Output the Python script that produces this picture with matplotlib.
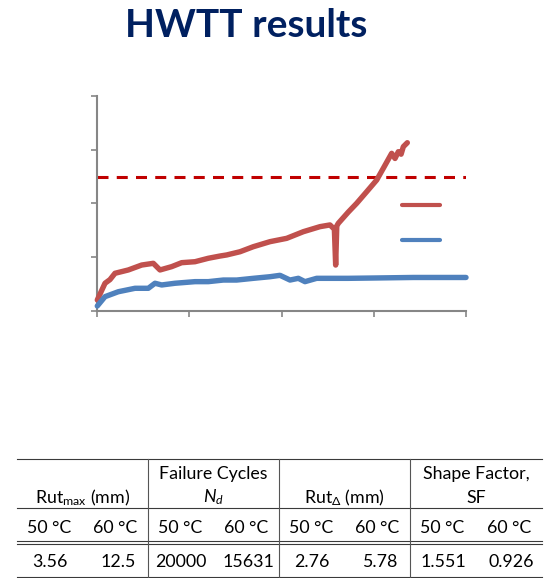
import matplotlib
matplotlib.use("Agg")
import matplotlib.pyplot as plt
from matplotlib.lines import Line2D

plt.rcParams['font.family'] = ['Lato', 'DejaVu Sans']
plt.rcParams['mathtext.fontset'] = 'custom'
plt.rcParams['mathtext.rm'] = 'Lato'
plt.rcParams['mathtext.it'] = 'Lato:italic'
plt.rcParams['mathtext.fallback'] = 'stixsans'

# ---------------- data ----------------
red_cycles = [0, 418, 687, 960, 1682, 2408, 3038, 3401, 4035, 4578, 5300, 6021,
              6656, 7018, 7741, 8463, 9368, 10273, 11175, 12080, 12622, 12860,
              12930, 12990, 13073, 13615, 14071, 14613, 15155, 15516, 15968,
              16150, 16329, 16480, 16600, 16817]
red_rut = [1.0, 2.56, 2.9, 3.49, 3.80, 4.26, 4.42, 3.80, 4.11, 4.48, 4.57, 4.89,
           5.10, 5.20, 5.50, 5.97, 6.44, 6.75, 7.37, 7.84, 8.0, 7.6,
           4.26, 7.9, 8.15, 9.2, 10.02, 11.10, 12.19, 13.29, 14.68,
           14.2, 14.83, 14.6, 15.30, 15.67]

blue_cycles = [0, 418, 1140, 2045, 2766, 3130, 3493, 4215, 4578, 5300, 6021,
               6835, 7561, 8463, 9368, 9910, 10453, 10905, 11266, 11899, 12985,
               13615, 15000, 17142, 20000]
blue_rut = [0.44, 1.31, 1.77, 2.09, 2.09, 2.56, 2.40, 2.56, 2.61, 2.71, 2.71,
            2.86, 2.86, 3.02, 3.17, 3.30, 2.86, 3.02, 2.71, 3.02, 3.02,
            3.02, 3.05, 3.10, 3.10]

threshold = 12.5
x_ticks = [0, 5000, 10000, 15000, 20000]
y_ticks = [0, 5, 10, 15, 20]

title = "HWTT results"
group_headers = [["Rut$_{\\mathregular{max}}$ (mm)"],
                 ["Failure Cycles", "$N_d$"],
                 ["Rut$_{\\mathit{\\Delta}}$ (mm)"],
                 ["Shape Factor,", "SF"]]
sub_headers = ["50 °C", "60 °C"] * 4
values = ["3.56", "12.5", "20000", "15631", "2.76", "5.78", "1.551", "0.926"]

# ---------------- figure ----------------
W, H = 551, 578
fig = plt.figure(figsize=(W / 100, H / 100), dpi=100)

def fx(x):
    return x / W

def fy(y):
    return 1 - y / H

ax = fig.add_axes([fx(97.3), fy(310.7), (466 - 97.3) / W, (310.7 - 96.3) / H])
red = '#C0504D'
blue = '#4F81BD'
ax.plot(red_cycles, red_rut, color=red, lw=3.9, solid_capstyle='round',
        solid_joinstyle='round', clip_on=False, zorder=3)
ax.plot(blue_cycles, blue_rut, color=blue, lw=3.9, solid_capstyle='round',
        solid_joinstyle='round', clip_on=False, zorder=3)
ax.axhline(threshold, color='#C00000', lw=2.2, ls=(0, (3.6, 2.7)), zorder=2)

ax.set_xlim(x_ticks[0], x_ticks[-1])
ax.set_ylim(y_ticks[0], y_ticks[-1])
ax.set_xticks(x_ticks)
ax.set_yticks(y_ticks)
ax.set_xticklabels([])
ax.set_yticklabels([])
for s in ['top', 'right']:
    ax.spines[s].set_visible(False)
for s in ['left', 'bottom']:
    ax.spines[s].set_color('#868686')
    ax.spines[s].set_linewidth(1.5)
ax.tick_params(direction='out', length=4, width=1.2, color='#868686')

handles = [Line2D([], [], color=red, lw=3.0, solid_capstyle='round'),
           Line2D([], [], color=blue, lw=3.0, solid_capstyle='round')]
ax.legend(handles, ['', ''], loc='center left', bbox_to_anchor=(0.826, 0.408),
          frameon=False, fontsize=12, handlelength=2.3, handletextpad=0,
          labelspacing=1.1, borderpad=0, borderaxespad=0)

# ---------------- title ----------------
fig.text(fx(246), fy(37), title, ha='center', va='baseline', fontsize=28,
         fontweight='bold', color='#002060')

# ---------------- table ----------------
edges = [17, 148, 279, 410, 542]
line_col = '#3a3a3a'

def hline(y, x0=edges[0], x1=edges[-1], lw=0.8):
    fig.add_artist(Line2D([fx(x0), fx(x1)], [fy(y), fy(y)], color=line_col, lw=lw))

def vline(x, y0, y1):
    fig.add_artist(Line2D([fx(x), fx(x)], [fy(y0), fy(y1)], color='#555555', lw=0.8))

hline(459.3)
hline(508.3)
hline(540.5)
hline(543.5)
hline(576.7)
for x in edges[1:-1]:
    vline(x, 459.3, 576.7)

fs_tab = 12.8
for g, lines in enumerate(group_headers):
    cx = (edges[g] + edges[g + 1]) / 2
    if len(lines) == 1:
        fig.text(fx(cx), fy(503.3), lines[0], ha='center', va='baseline', fontsize=fs_tab)
    else:
        fig.text(fx(cx), fy(479.5), lines[0], ha='center', va='baseline', fontsize=fs_tab)
        fig.text(fx(cx), fy(502.7), lines[1], ha='center', va='baseline', fontsize=fs_tab)

for i, (sh, v) in enumerate(zip(sub_headers, values)):
    g = i // 2
    w = edges[g + 1] - edges[g]
    frac_h = 0.245 if i % 2 == 0 else 0.75
    frac_v = 0.25 if i % 2 == 0 else 0.77
    fig.text(fx(edges[g] + frac_h * w), fy(532.7), sh, ha='center', va='baseline', fontsize=fs_tab)
    fig.text(fx(edges[g] + frac_v * w), fy(566.7), v, ha='center', va='baseline', fontsize=fs_tab)

fig.savefig("out.png", dpi=100)
